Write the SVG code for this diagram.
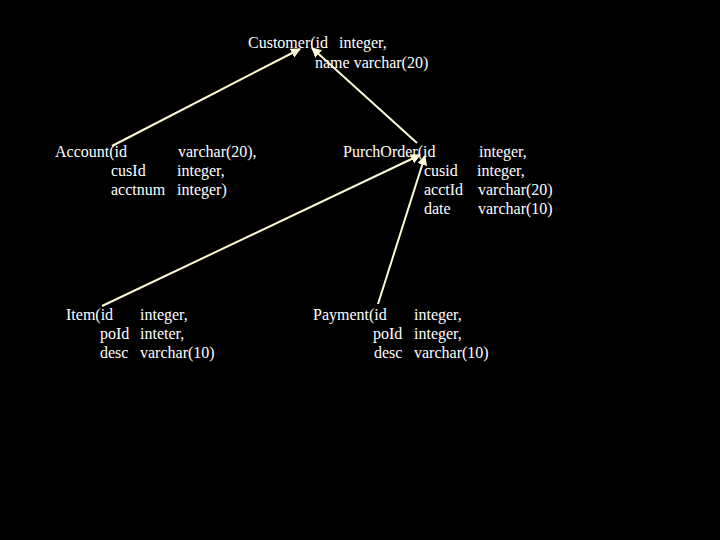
<svg xmlns="http://www.w3.org/2000/svg" width="720" height="540" viewBox="0 0 720 540">
<defs>
<style>
text{font-family:"Liberation Serif","Times New Roman",serif;font-size:16px;fill:#ffffff;}
.c{stroke:#fffbd6;stroke-width:2;fill:none;marker-end:url(#ah);}
</style>
<marker id="ah" viewBox="0 0 10 10" refX="9" refY="5" markerWidth="5" markerHeight="5" orient="auto" markerUnits="strokeWidth">
<path d="M0,0 L10,5 L0,10 z" fill="#fffbd6"/>
</marker>
</defs>
<rect width="720" height="540" fill="#000"/>
<g id="connectors">
<line class="c" x1="112" y1="146" x2="300" y2="49"/>
<line class="c" x1="417" y1="143" x2="312" y2="48"/>
<line class="c" x1="102" y1="306" x2="420" y2="155"/>
<line class="c" x1="378" y1="304" x2="425" y2="156"/>
</g>
<g id="customer">
<text x="248" y="48">Customer(id</text>
<text x="339" y="48">integer,</text>
<text x="315" y="68">name varchar(20)</text>
</g>
<g id="account">
<text x="55" y="157">Account(id</text>
<text x="178" y="157">varchar(20),</text>
<text x="111" y="176">cusId</text>
<text x="177" y="176">integer,</text>
<text x="111" y="195">acctnum</text>
<text x="177" y="195">integer)</text>
</g>
<g id="purchorder">
<text x="343" y="157">PurchOrder(id</text>
<text x="479" y="157">integer,</text>
<text x="424" y="176">cusid</text>
<text x="477" y="176">integer,</text>
<text x="424" y="195">acctId</text>
<text x="478" y="195">varchar(20)</text>
<text x="424" y="214">date</text>
<text x="478" y="214">varchar(10)</text>
</g>
<g id="item">
<text x="66" y="320">Item(id</text>
<text x="140" y="320">integer,</text>
<text x="100" y="339">poId</text>
<text x="140" y="339">inteter,</text>
<text x="100" y="358">desc</text>
<text x="140" y="358">varchar(10)</text>
</g>
<g id="payment">
<text x="313" y="320">Payment(id</text>
<text x="414" y="320">integer,</text>
<text x="373" y="339">poId</text>
<text x="414" y="339">integer,</text>
<text x="374" y="358">desc</text>
<text x="414" y="358">varchar(10)</text>
</g>
</svg>
